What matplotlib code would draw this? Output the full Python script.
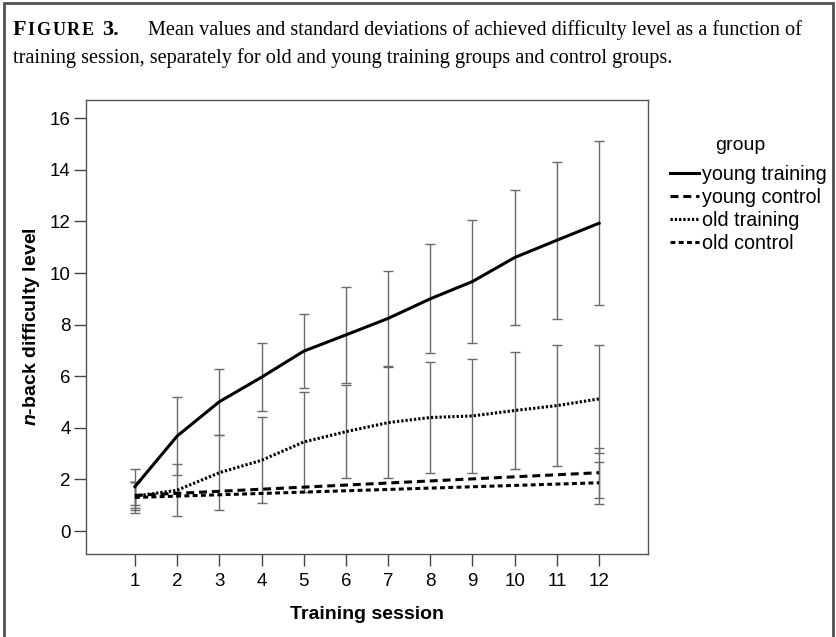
import numpy as np
import matplotlib
matplotlib.use('Agg')
import matplotlib.pyplot as plt
from matplotlib.lines import Line2D
from matplotlib.patches import Rectangle

plt.rcParams['font.family'] = ['Liberation Sans', 'DejaVu Sans']
plt.rcParams['mathtext.fontset'] = 'custom'
plt.rcParams['mathtext.it'] = 'Liberation Sans:italic:bold'
plt.rcParams['mathtext.rm'] = 'Liberation Sans:bold'

# Data (mean and SD of achieved n-back level)
sessions = np.arange(1, 13)
young_train_mean = [1.72, 3.68, 5.01, 5.96, 6.97, 7.60, 8.24, 9.00, 9.67, 10.60, 11.27, 11.93]
young_train_sd   = [0.70, 1.52, 1.27, 1.31, 1.44, 1.85, 1.83, 2.11, 2.38, 2.60, 3.05, 3.18]
old_train_mean   = [1.35, 1.58, 2.26, 2.74, 3.45, 3.85, 4.20, 4.40, 4.46, 4.67, 4.86, 5.12]
old_train_sd     = [0.55, 1.00, 1.45, 1.67, 1.94, 1.80, 2.15, 2.16, 2.20, 2.28, 2.35, 2.08]

# control groups were only measured at the first and last session
control_sessions  = [1, 12]
young_ctrl_mean   = [1.38, 2.26]
young_ctrl_sd     = [0.50, 0.97]
old_ctrl_mean     = [1.30, 1.87]
old_ctrl_sd       = [0.60, 0.82]

group_labels = ['young training', 'young control', 'old training', 'old control']

W, H = 836, 637
fig = plt.figure(figsize=(W / 100, H / 100), dpi=100)

# frame round the whole figure
fig.patches.append(Rectangle((3.5 / W, -0.01), (W - 7) / W, 1 - 3 / H + 0.01,
                             transform=fig.transFigure, fill=False,
                             edgecolor='#505050', linewidth=2.0))

# caption, "Figure" in bold small caps
serif = 'Liberation Serif'
cap_y = 1 - 35 / H
fig.canvas.draw()
r = fig.canvas.get_renderer()
t = fig.text(13 / W, cap_y, 'F', fontsize=16, fontweight='bold', family=serif)
x = t.get_window_extent(r).x1 + 1.0
for ch in 'IGURE':
    t = fig.text(x / W, cap_y, ch, fontsize=13, fontweight='bold', family=serif)
    x = t.get_window_extent(r).x1 + 1.8
fig.text((x + 6) / W, cap_y, '3.', fontsize=16, fontweight='bold', family=serif)
fig.text(148 / W, cap_y,
         'Mean values and standard deviations of achieved difficulty level as a function of',
         fontsize=14.6, family=serif)
fig.text(13 / W, 1 - 63 / H,
         'training session, separately for old and young training groups and control groups.',
         fontsize=14.6, family=serif)

# plot area
ax = fig.add_axes([86 / W, 1 - 554 / H, (648 - 86) / W, (554 - 100) / H])

lw = 2.2
styles = ['-', (0, (2.6, 1.6)), (0, (0.75, 0.65)), (0, (1.6, 1.1))]
err_kw = dict(ecolor='#6a6a6a', elinewidth=1.0, capsize=3.8, capthick=1.0)
ax.errorbar(sessions, young_train_mean, yerr=young_train_sd, color='black',
            lw=lw, ls=styles[0], **err_kw)
ax.errorbar(control_sessions, young_ctrl_mean, yerr=young_ctrl_sd, color='black',
            lw=lw, ls=styles[1], **err_kw)
ax.errorbar(sessions, old_train_mean, yerr=old_train_sd, color='black',
            lw=lw, ls=styles[2], **err_kw)
ax.errorbar(control_sessions, old_ctrl_mean, yerr=old_ctrl_sd, color='black',
            lw=lw, ls=styles[3], **err_kw)

ax.set_xlim(-0.16, 13.16)
ax.set_ylim((531 - 554) / 25.8, (531 - 100) / 25.8)
ax.set_xticks(sessions)
ax.set_yticks(np.arange(0, 17, 2))
ax.tick_params(direction='out', length=9, width=1.0, color='#444444',
               labelsize=13.5, pad=2)
ax.tick_params(axis='x', length=8.5, pad=5.5)
for s in ax.spines.values():
    s.set_color('#555555')
    s.set_linewidth(1.0)

ax.set_xlabel('Training session', fontsize=14, fontweight='bold', labelpad=11)
ax.set_ylabel(r'$\mathit{n}$-back difficulty level', fontsize=14,
              fontweight='bold', labelpad=6)

# legend
fig.text(740 / W, 1 - 146 / H, 'group', fontsize=14, ha='center', va='center')
handles = [Line2D([], [], color='black', lw=lw, ls=st) for st in styles]
leg = fig.legend(handles, group_labels, loc='upper left',
                 bbox_to_anchor=(670 / W, 1 - 165 / H), frameon=False,
                 fontsize=14.2, handlelength=1.45, handletextpad=0.15,
                 labelspacing=0.2, borderpad=0, borderaxespad=0)

fig.savefig('out.png', dpi=100)
